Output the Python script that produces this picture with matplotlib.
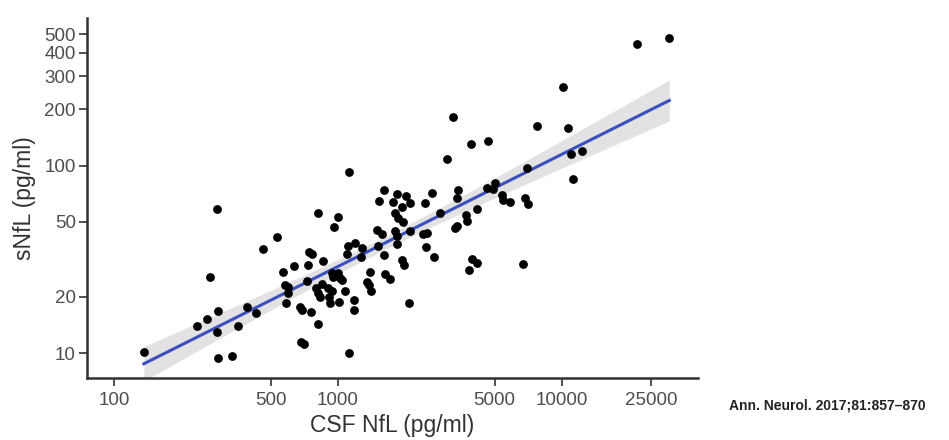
import numpy as np
import matplotlib.pyplot as plt

# CSF NfL (pg/ml) vs serum NfL (pg/ml)
csf = [136, 235, 261, 268, 287, 289, 292, 290, 338, 356, 394, 431, 464, 532,
       570, 580, 600, 600, 586, 636, 677, 693, 682, 707, 729, 737, 745, 763,
       755, 798, 817, 831, 812, 817, 845, 860, 905, 937, 915, 921, 937, 1003,
       1021, 1039, 963, 1003, 1013, 1074, 1094, 1112, 1120, 1124, 1179, 1179,
       1197, 1263, 1276, 1351, 1380, 1400, 1390, 1498, 1567, 1513, 1532, 1605,
       1597, 1621, 1707, 1761, 1828, 2018, 2089, 1925, 1797, 1858, 1956, 1797,
       1839, 1828, 1925, 1970, 2081, 2107, 2403, 2509, 2446, 2615, 2479, 2675,
       2854, 3057, 3271, 3329, 3388, 3417, 3410, 3727, 3747, 3857, 3954, 4161,
       3913, 4187, 4611, 4673, 5021, 4934, 5381, 5453, 5841, 6720, 6804, 7038,
       6959, 7757, 10135, 10690, 10935, 12240, 11163, 21680, 30130, 953]
snfl = [10.1, 13.9, 15.2, 25.6, 58.4, 12.9, 16.8, 9.4, 9.7, 14.0, 17.7, 16.3,
        35.8, 41.8, 26.9, 23.1, 22.6, 21.0, 18.5, 29.0, 17.6, 16.9, 11.4, 11.2,
        24.3, 29.6, 34.4, 33.7, 16.6, 22.2, 20.9, 20.0, 56.0, 14.2, 23.4, 31.1,
        22.2, 21.3, 20.0, 18.5, 26.7, 26.7, 25.1, 24.4, 47.0, 53.1, 18.8, 21.5,
        33.6, 37.3, 92.0, 10.0, 19.2, 17.0, 38.5, 32.6, 36.3, 24.0, 23.0, 21.5,
        27.2, 45.2, 43.0, 37.3, 65.1, 74.2, 33.4, 26.5, 24.8, 64.1, 70.9, 68.7,
        63.3, 60.2, 55.7, 52.4, 50.3, 44.5, 41.9, 38.3, 31.5, 29.4, 18.6, 44.9,
        43.2, 43.5, 63.5, 71.8, 36.6, 32.7, 56.0, 108, 182, 46.4, 47.5, 73.8,
        67.3, 54.6, 50.5, 27.7, 31.9, 30.2, 130.5, 59.0, 76.0, 135, 81.2, 75.1,
        69.4, 65.6, 64.1, 29.9, 67.0, 62.1, 97.2, 163, 261, 159, 115, 120, 84.7,
        444, 478, 25.5]

x_ticks = [100, 500, 1000, 5000, 10000, 25000]
y_ticks = [10, 20, 50, 100, 200, 300, 400, 500]

plt.rcParams['font.family'] = 'Liberation Sans'

# linear fit on log-log scale with 95% confidence band
lx = np.log10(csf)
ly = np.log10(snfl)
n = len(lx)
slope, icpt = np.polyfit(lx, ly, 1)
resid = ly - (slope * lx + icpt)
s = np.sqrt(np.sum(resid ** 2) / (n - 2))
sxx = np.sum((lx - lx.mean()) ** 2)
gx = np.linspace(lx.min(), lx.max(), 200)
gy = slope * gx + icpt
half = 1.98 * s * np.sqrt(1 / n + (gx - lx.mean()) ** 2 / sxx)

fig = plt.figure(figsize=(9.49, 4.40), dpi=100)
ax = fig.add_axes([0.0917, 0.1409, 0.6438, 0.8181])

ax.fill_between(10 ** gx, 10 ** (gy - half), 10 ** (gy + half),
                color='#d9d9d9', alpha=0.75, linewidth=0, zorder=1)
ax.plot(10 ** gx, 10 ** gy, color='#3d4fbf', linewidth=2.2, zorder=2)
ax.scatter(csf, snfl, s=40, color='black', linewidths=0, zorder=3)

ax.set_xscale('log')
ax.set_yscale('log')
ax.set_xlim(75.8, 40460)
ax.set_ylim(7.36, 612)
ax.set_xticks(x_ticks)
ax.set_xticklabels([str(v) for v in x_ticks])
ax.set_yticks(y_ticks)
ax.set_yticklabels([str(v) for v in y_ticks])
ax.minorticks_off()

ax.tick_params(axis='both', labelsize=13.5, colors='#333333',
               labelcolor='#4d4d4d', length=6, width=1.2)
ax.tick_params(axis='x', pad=4)
ax.tick_params(axis='y', pad=2)

for side in ['top', 'right']:
    ax.spines[side].set_visible(False)
for side in ['left', 'bottom']:
    ax.spines[side].set_color('#333333')
    ax.spines[side].set_linewidth(1.8)

ax.set_xlabel('CSF NfL (pg/ml)', fontsize=16.5, color='#333333', labelpad=4)
ax.set_ylabel('sNfL (pg/ml)', fontsize=16.5, color='#333333', labelpad=6)

fig.text(729 / 949, 1 - 405 / 440, 'Ann. Neurol. 2017;81:857\u2013870',
         fontsize=10, fontweight='bold', color='#222222',
         ha='left', va='center')

fig.savefig('out.png', dpi=100)
